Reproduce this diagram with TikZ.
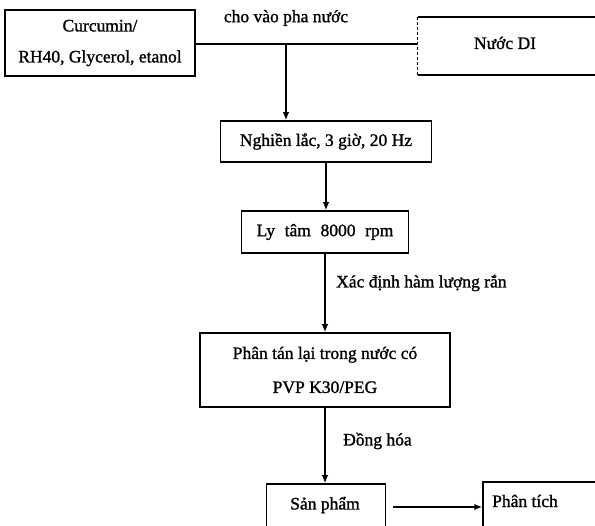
\documentclass[tikz,border=0pt]{standalone}
\usepackage{fontspec}
\setmainfont{Liberation Serif}[FakeBold=1.2]
\usetikzlibrary{arrows.meta}
\begin{document}
\begin{tikzpicture}[x=1pt,y=-1pt,
  txt/.style={font=\fontsize{17.5}{20}\selectfont, inner sep=0pt},
  boxline/.style={draw, line width=1.5pt, inner sep=0pt, font=\fontsize{17.5}{20}\selectfont},
  conn/.style={line width=1.5pt},
  arr/.style={conn, -{Latex[length=8pt,width=6.5pt]}}]
\useasboundingbox (0,0) rectangle (595,526);
\fill[white] (0,0) rectangle (595,526);
% boxes
\node[boxline, minimum width=190, minimum height=66, align=center,
  font=\fontsize{17.5}{31}\selectfont] (cur) at (100,43) {Curcumin/\\RH40, Glycerol, etanol};
\node[minimum width=200, minimum height=58, inner sep=0pt] (di) at (518,46) {};
\node[txt] (ditxt) at (505,43) {Nước DI};
\draw[line width=1.5pt] (di.north east) -- (di.north west);
\draw[line width=1.5pt] (di.south west) -- (di.south east);
\draw[line width=0.8pt, dash pattern=on 3pt off 2pt] (di.north west) -- (di.south west);
\node[boxline, minimum width=211, minimum height=41] (ng) at (326,141.5) {Nghiền lắc, 3 giờ, 20 Hz};
\node[boxline, minimum width=167, minimum height=42] (ly) at (325,232) {Ly\hspace{0.55em}tâm\hspace{0.55em}8000\hspace{0.55em}rpm};
\node[boxline, minimum width=250, minimum height=74, align=center,
  font=\fontsize{17.5}{34}\selectfont] (pt) at (325,370) {Phân tán lại trong nước có\\PVP K30/PEG};
\node[boxline, minimum width=119, minimum height=48] (sp) at (326,508) {};
\node[txt] (sptxt) at (325,505) {Sản phẩm};
\node[boxline, minimum width=120, minimum height=50] (an) at (543,507) {};
\node[txt] (antxt) at (525,501) {Phân tích};
% connectors
\coordinate (j) at (286,44);
\draw[conn] (cur.east |- j) -- (di.west |- j);
\draw[arr] (j) -- (j |- ng.north);
\draw[arr] (ng.south) -- (ng.south |- ly.north);
\draw[arr] (ly.south) -- (ly.south |- pt.north);
\draw[arr] (pt.south) -- (pt.south |- sp.north);
\coordinate (sa) at (393,507);
\draw[arr] (sa) -- (sa -| an.west);
% labels
\node[txt] (l1) at (286,18) {cho vào pha nước};
\node[txt, anchor=west] (l2) at (336,283) {Xác định hàm lượng rắn};
\node[txt, anchor=west] (l3) at (343,441) {Đồng hóa};
\end{tikzpicture}
\end{document}
